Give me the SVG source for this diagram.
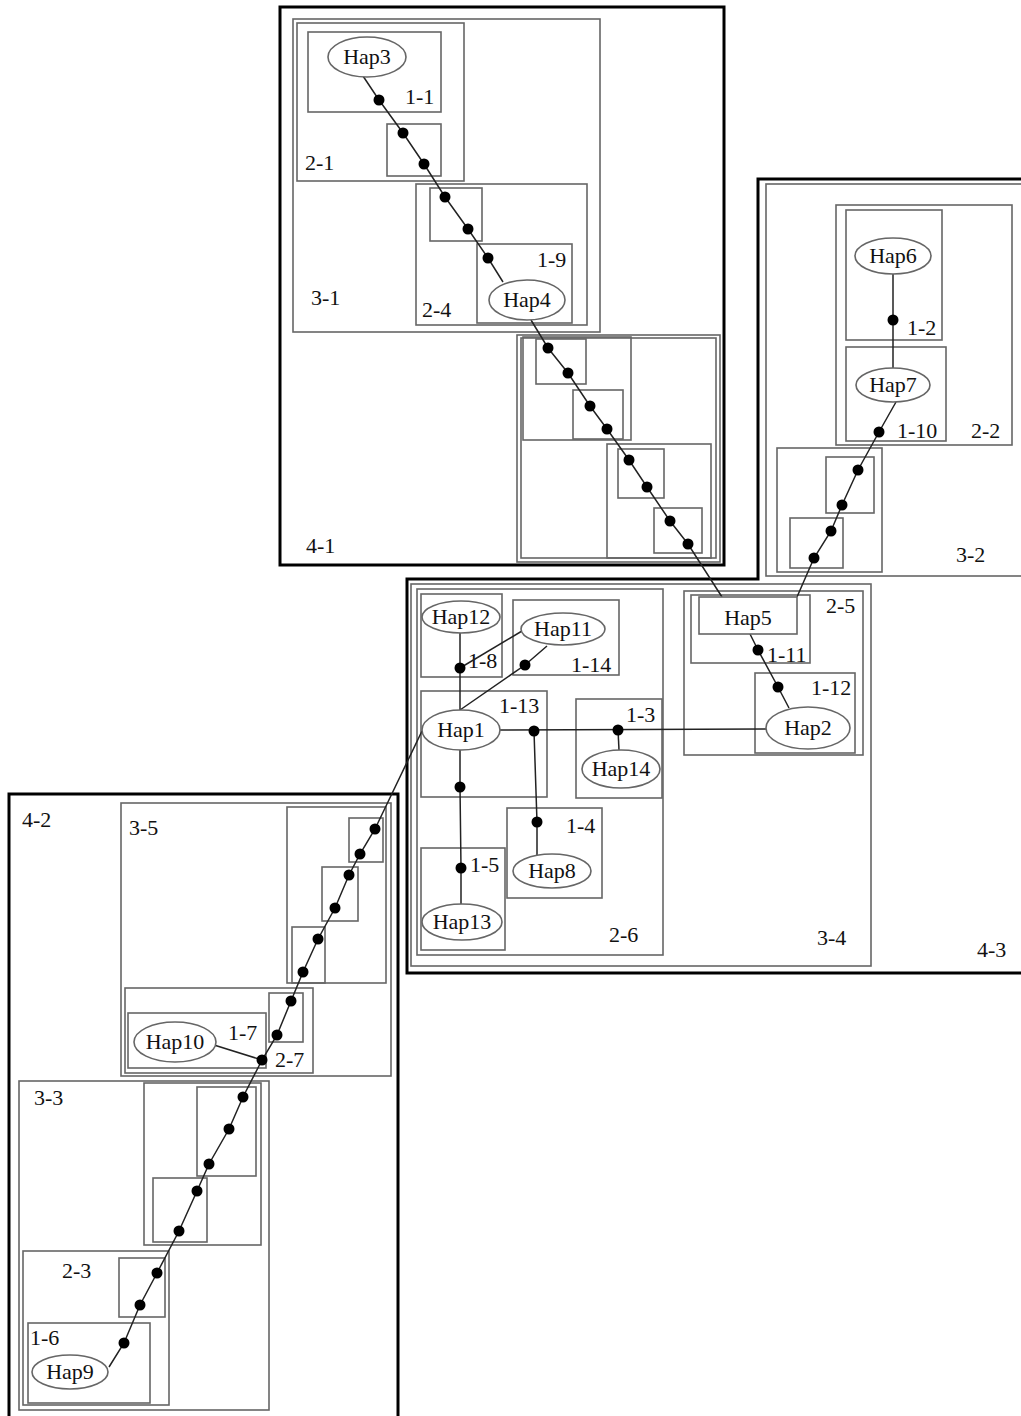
<svg xmlns="http://www.w3.org/2000/svg" width="1021" height="1416" viewBox="0 0 1021 1416">
<style>
.bg{fill:#fff}
.thick{fill:none;stroke:#000;stroke-width:3}
.box{fill:none;stroke:#666;stroke-width:1.6}
.nd{fill:#fff;stroke:#666;stroke-width:1.6}
.edge{fill:none;stroke:#222;stroke-width:1.5}
.dot{fill:#000}
text{font-family:"Liberation Serif","Times New Roman",serif;font-size:22px;fill:#111}
.c{text-anchor:middle}
</style>
<rect class="bg" x="0" y="0" width="1021" height="1416"/>

<g id="groups">
  <g id="g4-1">
    <rect class="box" x="293" y="19" width="307" height="313"/>
    <rect class="box" x="297" y="23" width="167" height="158"/>
    <rect class="box" x="308" y="32" width="133" height="80"/>
    <rect class="box" x="387" y="124" width="54" height="52"/>
    <rect class="box" x="416" y="184" width="171" height="141"/>
    <rect class="box" x="430" y="188" width="52" height="53"/>
    <rect class="box" x="477" y="244" width="95" height="79"/>
    <rect class="box" x="517" y="335" width="203" height="227"/>
    <rect class="box" x="521" y="338" width="195" height="220"/>
    <rect class="box" x="523" y="337" width="108" height="103"/>
    <rect class="box" x="536" y="339" width="50" height="45"/>
    <rect class="box" x="573" y="390" width="50" height="49"/>
    <rect class="box" x="607" y="444" width="104" height="114"/>
    <rect class="box" x="618" y="449" width="46" height="49"/>
    <rect class="box" x="654" y="508" width="48" height="45"/>
    <rect class="thick" x="280" y="7" width="444" height="558"/>
    <text x="405" y="104">1-1</text>
    <text x="305" y="170">2-1</text>
    <text x="537" y="267">1-9</text>
    <text x="311" y="305">3-1</text>
    <text x="422" y="317">2-4</text>
    <text x="306" y="553">4-1</text>
  </g>
  <g id="g4-3">
    <rect class="box" x="766" y="184" width="270" height="392"/>
    <rect class="box" x="836" y="205" width="176" height="240"/>
    <rect class="box" x="846" y="210" width="96" height="130"/>
    <rect class="box" x="846" y="347" width="100" height="94"/>
    <rect class="box" x="777" y="448" width="105" height="124"/>
    <rect class="box" x="826" y="457" width="48" height="56"/>
    <rect class="box" x="790" y="518" width="53" height="50"/>
    <rect class="box" x="411" y="584" width="460" height="382"/>
    <rect class="box" x="417" y="589" width="246" height="366"/>
    <rect class="box" x="421" y="594" width="81" height="83"/>
    <rect class="box" x="513" y="600" width="106" height="75"/>
    <rect class="box" x="421" y="691" width="126" height="106"/>
    <rect class="box" x="576" y="699" width="86" height="99"/>
    <rect class="box" x="507" y="808" width="95" height="90"/>
    <rect class="box" x="421" y="848" width="84" height="102"/>
    <rect class="box" x="684" y="591" width="179" height="164"/>
    <rect class="box" x="691" y="595" width="119" height="68"/>
    <rect class="box" x="755" y="673" width="100" height="80"/>
    <path class="thick" d="M1030 179 H758 V579 H407 V973 H1030"/>
    <text x="907" y="335">1-2</text>
    <text x="897" y="438">1-10</text>
    <text x="971" y="438">2-2</text>
    <text x="956" y="562">3-2</text>
    <text x="826" y="613">2-5</text>
    <text x="767" y="662">1-11</text>
    <text x="811" y="695">1-12</text>
    <text x="817" y="945">3-4</text>
    <text x="977" y="957">4-3</text>
    <text x="468" y="668">1-8</text>
    <text x="571" y="672">1-14</text>
    <text x="499" y="713">1-13</text>
    <text x="626" y="722">1-3</text>
    <text x="566" y="833">1-4</text>
    <text x="470" y="872">1-5</text>
    <text x="609" y="942">2-6</text>
  </g>
  <g id="g4-2">
    <rect class="box" x="121" y="803" width="270" height="273"/>
    <rect class="box" x="287" y="807" width="99" height="176"/>
    <rect class="box" x="349" y="818" width="34" height="44"/>
    <rect class="box" x="322" y="867" width="36" height="54"/>
    <rect class="box" x="292" y="927" width="33" height="56"/>
    <rect class="box" x="125" y="988" width="188" height="85"/>
    <rect class="box" x="128" y="1013" width="138" height="55"/>
    <rect class="box" x="269" y="993" width="34" height="49"/>
    <rect class="box" x="19" y="1081" width="250" height="329"/>
    <rect class="box" x="144" y="1083" width="117" height="162"/>
    <rect class="box" x="197" y="1087" width="59" height="89"/>
    <rect class="box" x="153" y="1178" width="54" height="64"/>
    <rect class="box" x="23" y="1251" width="146" height="154"/>
    <rect class="box" x="119" y="1258" width="46" height="59"/>
    <rect class="box" x="28" y="1323" width="122" height="80"/>
    <rect class="thick" x="9" y="794" width="389" height="640"/>
    <text x="22" y="827">4-2</text>
    <text x="129" y="835">3-5</text>
    <text x="228" y="1040">1-7</text>
    <text x="275" y="1067">2-7</text>
    <text x="34" y="1105">3-3</text>
    <text x="62" y="1278">2-3</text>
    <text x="30" y="1345">1-6</text>
  </g>
</g>

<g id="connectors">
  <polyline class="edge" points="363,76 379,100 403,133 424,164 445,197 468,229 488,258 503,282"/>
  <polyline class="edge" points="531,320 548,348 568,373 590,406 607,429 629,460 647,487 670,521 688,544 722,597"/>
  <polyline class="edge" points="896,402 879,432 858,470 842,505 831,531 814,558 797,597"/>
  <polyline class="edge" points="893,274 893,320 893,368"/>
  <polyline class="edge" points="750,634 758,650 778,687 789,708"/>
  <polyline class="edge" points="500,730 766,729"/>
  <polyline class="edge" points="534,731 537,822 537,856"/>
  <polyline class="edge" points="618,730 619,750"/>
  <polyline class="edge" points="460,750 460,787 461,868 461,904"/>
  <polyline class="edge" points="460,633 460,668 460,710"/>
  <polyline class="edge" points="522,631 460,668"/>
  <polyline class="edge" points="547,646 525,665 460,710"/>
  <polyline class="edge" points="422,731 375,829 360,854 349,875 335,908 318,939 303,972 291,1001 277,1035 262,1060 243,1097 229,1129 209,1164 197,1191 179,1231 157,1273 140,1305 124,1343 109,1367"/>
  <polyline class="edge" points="214,1045 262,1060"/>
  <g id="dots" class="dot">
    <circle cx="379" cy="100" r="5.5"/><circle cx="403" cy="133" r="5.5"/><circle cx="424" cy="164" r="5.5"/>
    <circle cx="445" cy="197" r="5.5"/><circle cx="468" cy="229" r="5.5"/><circle cx="488" cy="258" r="5.5"/>
    <circle cx="548" cy="348" r="5.5"/><circle cx="568" cy="373" r="5.5"/><circle cx="590" cy="406" r="5.5"/>
    <circle cx="607" cy="429" r="5.5"/><circle cx="629" cy="460" r="5.5"/><circle cx="647" cy="487" r="5.5"/>
    <circle cx="670" cy="521" r="5.5"/><circle cx="688" cy="544" r="5.5"/>
    <circle cx="893" cy="320" r="5.5"/><circle cx="879" cy="432" r="5.5"/><circle cx="858" cy="470" r="5.5"/>
    <circle cx="842" cy="505" r="5.5"/><circle cx="831" cy="531" r="5.5"/><circle cx="814" cy="558" r="5.5"/>
    <circle cx="758" cy="650" r="5.5"/><circle cx="778" cy="687" r="5.5"/>
    <circle cx="460" cy="668" r="5.5"/><circle cx="525" cy="665" r="5.5"/><circle cx="534" cy="731" r="5.5"/>
    <circle cx="618" cy="730" r="5.5"/><circle cx="537" cy="822" r="5.5"/><circle cx="460" cy="787" r="5.5"/>
    <circle cx="461" cy="868" r="5.5"/>
    <circle cx="375" cy="829" r="5.5"/><circle cx="360" cy="854" r="5.5"/><circle cx="349" cy="875" r="5.5"/>
    <circle cx="335" cy="908" r="5.5"/><circle cx="318" cy="939" r="5.5"/><circle cx="303" cy="972" r="5.5"/>
    <circle cx="291" cy="1001" r="5.5"/><circle cx="277" cy="1035" r="5.5"/><circle cx="262" cy="1060" r="5.5"/>
    <circle cx="243" cy="1097" r="5.5"/><circle cx="229" cy="1129" r="5.5"/><circle cx="209" cy="1164" r="5.5"/>
    <circle cx="197" cy="1191" r="5.5"/><circle cx="179" cy="1231" r="5.5"/><circle cx="157" cy="1273" r="5.5"/>
    <circle cx="140" cy="1305" r="5.5"/><circle cx="124" cy="1343" r="5.5"/>
  </g>
</g>

<g id="nodes">
  <g id="Hap3"><ellipse class="nd" cx="367" cy="57" rx="39" ry="20"/><text class="c" x="367" y="64">Hap3</text></g>
  <g id="Hap4"><ellipse class="nd" cx="527" cy="300" rx="38" ry="20"/><text class="c" x="527" y="307">Hap4</text></g>
  <g id="Hap6"><ellipse class="nd" cx="893" cy="256" rx="38" ry="18"/><text class="c" x="893" y="263">Hap6</text></g>
  <g id="Hap7"><ellipse class="nd" cx="893" cy="385" rx="37" ry="17"/><text class="c" x="893" y="392">Hap7</text></g>
  <g id="Hap5"><rect class="nd" x="699" y="597" width="98" height="37"/><text class="c" x="748" y="625">Hap5</text></g>
  <g id="Hap12"><ellipse class="nd" cx="461" cy="617" rx="39" ry="16"/><text class="c" x="461" y="624">Hap12</text></g>
  <g id="Hap11"><ellipse class="nd" cx="563" cy="629" rx="42" ry="16"/><text class="c" x="563" y="636">Hap11</text></g>
  <g id="Hap1"><ellipse class="nd" cx="461" cy="730" rx="39" ry="20"/><text class="c" x="461" y="737">Hap1</text></g>
  <g id="Hap14"><ellipse class="nd" cx="621" cy="769" rx="39" ry="19"/><text class="c" x="621" y="776">Hap14</text></g>
  <g id="Hap8"><ellipse class="nd" cx="552" cy="871" rx="39" ry="17"/><text class="c" x="552" y="878">Hap8</text></g>
  <g id="Hap13"><ellipse class="nd" cx="462" cy="922" rx="40" ry="18"/><text class="c" x="462" y="929">Hap13</text></g>
  <g id="Hap2"><ellipse class="nd" cx="808" cy="728" rx="42" ry="21"/><text class="c" x="808" y="735">Hap2</text></g>
  <g id="Hap10"><ellipse class="nd" cx="175" cy="1042" rx="41" ry="20"/><text class="c" x="175" y="1049">Hap10</text></g>
  <g id="Hap9"><ellipse class="nd" cx="70" cy="1372" rx="38" ry="17"/><text class="c" x="70" y="1379">Hap9</text></g>
</g>
</svg>
